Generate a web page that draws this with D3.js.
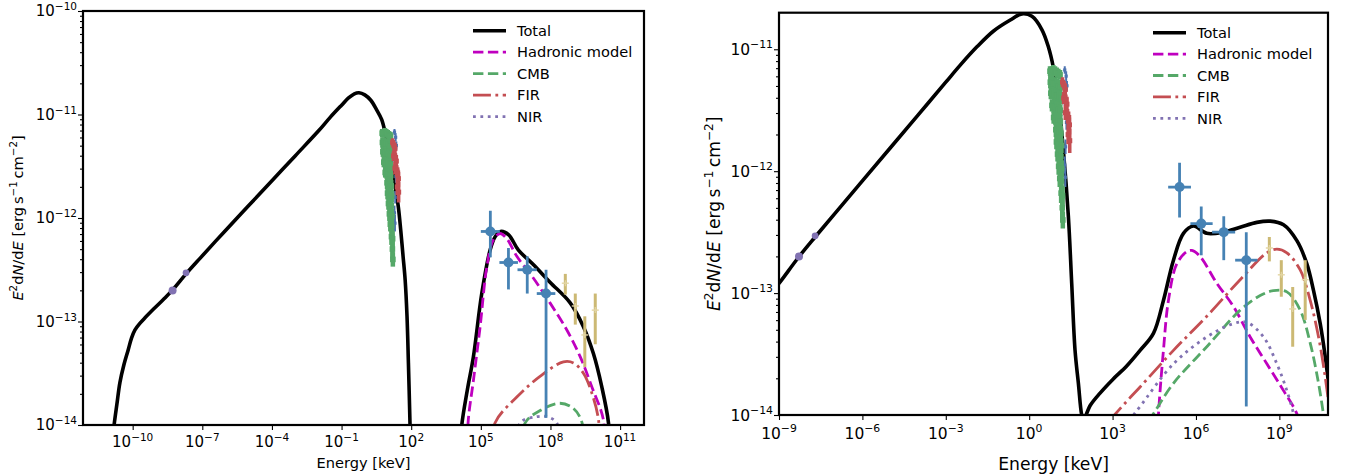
<!DOCTYPE html>
<html><head><meta charset="utf-8">
<script src="https://cdn.jsdelivr.net/npm/d3@7"></script>
<style>body{margin:0;background:#fff} text{font-family:"DejaVu Sans",sans-serif;fill:#000}</style>
</head><body><svg id="c" width="1354" height="475"></svg>
<script>
// ---- data: pairs are [log10 E (keV), log10 E^2dN/dE (erg s^-1 cm^-2)] ----
const leftTotalSync = [[-10.95,-14.3],[-10.80,-14.0],[-10.68,-13.80],[-10.55,-13.59],[-10.38,-13.42],[-10.20,-13.28],[-10.05,-13.16],[-9.90,-13.08],[-9.70,-13.02],[-9.45,-12.96],[-9.1,-12.88],[-8.6,-12.77],[-8.26,-12.69],[-7.70,-12.54],[-7.10,-12.39],[-6,-12.12],[-5,-11.88],[-4,-11.64],[-3,-11.40],[-2,-11.16],[-1.5,-11.03],[-1.0,-10.91],[-0.7,-10.84],[-0.45,-10.80],[-0.25,-10.79],[0.0,-10.81],[0.25,-10.86],[0.5,-10.95],[0.73,-11.05],[0.9,-11.2],[1.1,-11.42],[1.3,-11.68],[1.45,-11.90],[1.55,-12.12],[1.65,-12.37],[1.74,-12.60],[1.82,-12.95],[1.88,-13.4],[1.95,-14.0],[1.98,-14.3]];
const leftTotalHigh = [[4.10,-14.3],[4.18,-14.0],[4.42,-13.66],[4.68,-13.34],[5.04,-12.73],[5.40,-12.31],[5.62,-12.18],[5.85,-12.13],[6.19,-12.16],[6.62,-12.31],[7.26,-12.45],[7.98,-12.62],[8.85,-12.82],[9.42,-13.05],[9.85,-13.31],[10.21,-13.63],[10.50,-13.98],[10.55,-14.3]];
const leftHadronic = [[4.40,-14.3],[4.46,-13.95],[4.68,-13.57],[4.97,-13.05],[5.26,-12.47],[5.54,-12.21],[5.83,-12.15],[6.12,-12.20],[6.55,-12.37],[7.26,-12.58],[7.98,-12.82],[8.70,-13.08],[9.28,-13.34],[9.78,-13.63],[10.28,-13.95],[10.32,-14.3]];
const leftFIR = [[5.45,-14.3],[5.61,-13.98],[6.55,-13.73],[7.55,-13.53],[8.56,-13.39],[8.99,-13.40],[9.42,-13.50],[9.78,-13.69],[10.07,-13.95],[10.12,-14.3]];
const leftCMB = [[6.70,-14.3],[6.91,-13.98],[7.55,-13.86],[8.41,-13.79],[8.99,-13.84],[9.35,-13.97],[9.45,-14.3]];
const leftNIR = [[6.55,-14.3],[6.69,-13.98],[7.41,-13.92],[7.84,-13.92],[8.27,-13.98],[8.45,-14.3]];

const rightTotal = [[-9.3,-13.0],[-9,-12.92],[-8.31,-12.71],[-7.70,-12.54],[-7,-12.35],[-6,-12.08],[-5,-11.81],[-4,-11.54],[-3,-11.27],[-2.48,-11.13],[-1.88,-10.98],[-1.28,-10.85],[-0.68,-10.76],[-0.26,-10.71],[0.10,-10.73],[0.46,-10.84],[0.69,-10.98],[0.87,-11.15],[1.05,-11.42],[1.23,-11.83],[1.41,-12.37],[1.53,-12.92],[1.65,-13.47],[1.77,-13.74],[1.89,-14.0],[1.95,-14.04],[2.2,-13.92],[2.55,-13.82],[3.0,-13.71],[3.5,-13.60],[3.99,-13.47],[4.47,-13.33],[4.83,-13.06],[5.19,-12.73],[5.55,-12.51],[5.91,-12.45],[6.39,-12.51],[6.99,-12.50],[7.59,-12.46],[8.19,-12.42],[8.67,-12.41],[9.15,-12.44],[9.63,-12.57],[9.99,-12.76],[10.23,-12.98],[10.47,-13.25],[10.65,-13.52],[10.8,-13.8]];
const rightHadronic = [[4.60,-14.3],[4.65,-14.0],[4.83,-13.47],[5.01,-13.06],[5.31,-12.76],[5.67,-12.66],[5.85,-12.65],[6.15,-12.70],[6.75,-12.92],[7.35,-13.11],[7.95,-13.36],[8.55,-13.58],[9.15,-13.80],[9.63,-13.99],[9.75,-14.1]];
const rightFIR = [[2.9,-14.05],[3.07,-14.0],[3.5,-13.89],[3.99,-13.77],[5.19,-13.47],[6.39,-13.19],[7.59,-12.89],[8.55,-12.67],[8.91,-12.64],[9.27,-12.67],[9.75,-12.81],[10.11,-13.06],[10.41,-13.36],[10.65,-13.69],[10.8,-13.95]];
const rightCMB = [[4.3,-14.05],[4.47,-13.99],[5.19,-13.74],[6.39,-13.44],[7.59,-13.14],[8.31,-13.02],[8.79,-12.98],[9.27,-12.99],[9.75,-13.14],[10.11,-13.41],[10.41,-13.74],[10.59,-14.0],[10.65,-14.1]];
const rightNIR = [[3.6,-14.05],[3.75,-14.0],[3.99,-13.93],[5.19,-13.58],[6.39,-13.36],[7.35,-13.25],[7.83,-13.24],[8.43,-13.36],[8.91,-13.58],[9.27,-13.80],[9.51,-13.99],[9.6,-14.1]];

// observations (log10 values)
const radioE = [-8.28, -7.70];
const radioF = [-12.70, -12.53];
const fermiE = [5.41, 6.19, 7.00, 7.81];
const fermiElo = [5.00, 5.80, 6.58, 7.41];
const fermiEhi = [5.82, 6.60, 7.41, 8.21];
const fermiF = [-12.13, -12.43, -12.50, -12.73];
const fermiFlo = [-12.38, -12.69, -12.73, -13.93];
const fermiFhi = [-11.93, -12.29, -12.37, -12.50];
const hessE = [8.64, 9.07, 9.48, 9.93];
const hessF = [-12.63, -12.85, -13.13, -12.89];
const hessFlo = [-12.74, -13.03, -13.44, -13.22];
const hessFhi = [-12.54, -12.73, -12.95, -12.73];
const xrayGreenE = [0.75,0.81,0.87,0.93,0.99,1.05,1.11,
                    0.76,0.82,0.88,0.94,1.00,1.06,1.12,
                    0.78,0.84,0.90,0.96,1.02,1.08,1.14,
                    0.82,0.88,0.94,1.00,1.06,1.12,
                    0.88,0.94,1.00,1.06,1.12,
                    0.96,1.02,1.08,1.14,
                    0.98,1.04,1.10,1.16,
                    1.02,1.08,1.14,
                    1.06,1.12,1.17,
                    1.10,1.16,
                    1.15,1.20,
                    1.19,1.21];
const xrayGreenF = [-11.18,-11.18,-11.17,-11.18,-11.19,-11.20,-11.21,
                    -11.27,-11.27,-11.28,-11.28,-11.29,-11.30,-11.31,
                    -11.36,-11.36,-11.37,-11.38,-11.38,-11.39,-11.40,
                    -11.46,-11.47,-11.47,-11.48,-11.49,-11.50,
                    -11.56,-11.57,-11.58,-11.58,-11.59,
                    -11.66,-11.67,-11.68,-11.69,
                    -11.76,-11.77,-11.78,-11.79,
                    -11.86,-11.87,-11.88,
                    -11.96,-11.97,-11.98,
                    -12.06,-12.08,
                    -12.18,-12.20,
                    -12.30,-12.40];
const xrayGreenErr = [0.04,0.04,0.04,0.04,0.04,0.04,0.04,
                      0.05,0.05,0.05,0.05,0.05,0.05,0.05,
                      0.05,0.05,0.05,0.05,0.05,0.05,0.05,
                      0.05,0.05,0.05,0.05,0.05,0.05,
                      0.05,0.05,0.05,0.05,0.05,
                      0.06,0.06,0.06,0.06,
                      0.06,0.06,0.06,0.06,
                      0.06,0.06,0.06,
                      0.07,0.07,0.07,
                      0.07,0.07,
                      0.08,0.08,
                      0.09,0.07];
const xrayRedE = [1.20,1.26,1.30,1.24,1.32,1.36,1.30,1.38,1.42,1.45,1.40,1.46];
const xrayRedF = [-11.27,-11.30,-11.33,-11.40,-11.42,-11.45,-11.52,-11.55,-11.58,-11.62,-11.70,-11.75];
const xrayRedErr = [0.04,0.04,0.05,0.05,0.05,0.06,0.06,0.06,0.07,0.08,0.08,0.10];
const xrayBlueE = [1.28,1.33,1.36,1.30,1.34,1.31,1.28,1.30];
const xrayBlueF = [-11.17,-11.22,-11.30,-11.45,-11.60,-11.80,-11.95,-12.05];
const xrayBlueErr = [0.03,0.04,0.04,0.05,0.06,0.06,0.07,0.08];

const legendLabels = ["Total", "Hadronic model", "CMB", "FIR", "NIR"];
const leftXTicks = [-10,-7,-4,-1,2,5,8,11];
const leftYTicks = [-14,-13,-12,-11,-10];
const rightXTicks = [-9,-6,-3,0,3,6,9];
const rightYTicks = [-14,-13,-12,-11];

// ---- styles ----
const styles = [
  {color:"#000000", w:3.6, dash:null},
  {color:"#bf00bf", w:2.8, dash:"10.4,4.5"},
  {color:"#55a868", w:2.8, dash:"10.4,4.5"},
  {color:"#c44e52", w:2.8, dash:"17.9,4.5,2.8,4.5"},
  {color:"#8172b2", w:2.8, dash:"2.8,4.6"}
];

const svg = d3.select("#c");
const P = v => Math.pow(10, v);

function supLabel(sel, exp, size) {
  sel.append("tspan").text("10");
  sel.append("tspan").attr("font-size", size*0.7).attr("dy", -size*0.42)
    .text(exp < 0 ? "\u2212" + Math.abs(exp) : String(exp));
}

function drawPanel(cfg) {
  const g = svg.append("g");
  const x = d3.scaleLog().domain(cfg.xDomain.map(P)).range([cfg.x0, cfg.x1]);
  const y = d3.scaleLog().domain(cfg.yDomain.map(P)).range([cfg.y1, cfg.y0]);
  const id = "clip" + cfg.name;
  svg.append("defs").append("clipPath").attr("id", id).append("rect")
    .attr("x", cfg.x0).attr("y", cfg.y0).attr("width", cfg.x1 - cfg.x0).attr("height", cfg.y1 - cfg.y0);
  const plot = g.append("g").attr("clip-path", `url(#${id})`);
  const line = d3.line().x(d => x(P(d[0]))).y(d => y(P(d[1]))).curve(d3.curveCatmullRom.alpha(0.5));

  cfg.curves.forEach(c => {
    c.data.forEach(arr => {
      plot.append("path").attr("d", line(arr)).attr("fill", "none")
        .attr("stroke", styles[c.s].color).attr("stroke-width", styles[c.s].w)
        .attr("stroke-dasharray", styles[c.s].dash).attr("stroke-linejoin", "round");
    });
  });

  function xray(E, F, Err, color, w, r) {
    E.forEach((e, i) => {
      plot.append("line").attr("x1", x(P(e))).attr("x2", x(P(e)))
        .attr("y1", y(P(F[i] - Err[i]))).attr("y2", y(P(F[i] + Err[i])))
        .attr("stroke", color).attr("stroke-width", w);
      plot.append("rect").attr("x", x(P(e)) - r).attr("y", y(P(F[i])) - r)
        .attr("width", 2*r).attr("height", 2*r).attr("fill", color);
    });
  }
  xray(xrayBlueE, xrayBlueF, xrayBlueErr, "#4c72b0", 2, 1.6);
  xray(xrayGreenE, xrayGreenF, xrayGreenErr, "#55a868", 4.5, 2.8);
  xray(xrayRedE, xrayRedF, xrayRedErr, "#c44e52", 3.5, 2.5);

  radioE.forEach((e, i) => {
    plot.append("circle").attr("cx", x(P(e))).attr("cy", y(P(radioF[i]))).attr("r", i === 0 ? 4 : 3.4).attr("fill", "#8172b2");
  });
  fermiE.forEach((e, i) => {
    const cx = x(P(e)), cy = y(P(fermiF[i]));
    plot.append("line").attr("x1", x(P(fermiElo[i]))).attr("x2", x(P(fermiEhi[i]))).attr("y1", cy).attr("y2", cy)
      .attr("stroke", "#4682b4").attr("stroke-width", 2.8);
    plot.append("line").attr("x1", cx).attr("x2", cx).attr("y1", y(P(fermiFlo[i]))).attr("y2", y(P(fermiFhi[i])))
      .attr("stroke", "#4682b4").attr("stroke-width", 2.8);
    plot.append("circle").attr("cx", cx).attr("cy", cy).attr("r", 5).attr("fill", "#4682b4");
  });
  hessE.forEach((e, i) => {
    const cx = x(P(e)), cy = y(P(hessF[i]));
    plot.append("line").attr("x1", cx).attr("x2", cx).attr("y1", y(P(hessFlo[i]))).attr("y2", y(P(hessFhi[i])))
      .attr("stroke", "#ccb974").attr("stroke-width", 3);
    plot.append("line").attr("x1", cx - 3.5).attr("x2", cx + 3.5).attr("y1", cy).attr("y2", cy)
      .attr("stroke", "#e3d6a4").attr("stroke-width", 1.4);
    plot.append("line").attr("x1", cx).attr("x2", cx).attr("y1", cy - 3).attr("y2", cy + 3)
      .attr("stroke", "#e3d6a4").attr("stroke-width", 1.2);
  });

  const xa = g.append("g").attr("transform", `translate(0,${cfg.y1})`)
    .call(d3.axisBottom(x).tickValues(cfg.xTicks.map(P)).tickSize(5).tickFormat(""));
  const ya = g.append("g").attr("transform", `translate(${cfg.x0},0)`)
    .call(d3.axisLeft(y).tickValues(cfg.yTicks.map(P)).tickSize(5).tickFormat(""));
  const minors = [];
  for (let d = cfg.yDomain[0] - 1; d < cfg.yDomain[1]; d++) for (let m = 2; m <= 9; m++) {
    const v = m * P(d);
    if (v > P(cfg.yDomain[0]) && v < P(cfg.yDomain[1])) minors.push(v);
  }
  const ym = g.append("g").attr("transform", `translate(${cfg.x0},0)`)
    .call(d3.axisLeft(y).tickValues(minors).tickSize(3).tickFormat(""));
  [xa, ya, ym].forEach(a => { a.select(".domain").remove(); a.selectAll("line").attr("stroke", "#000").attr("stroke-width", 1.1); });

  cfg.xTicks.forEach(t => {
    const tx = g.append("text").attr("x", x(P(t))).attr("y", cfg.xLabY).attr("text-anchor", "middle").attr("font-size", cfg.tickFont);
    supLabel(tx, t, cfg.tickFont);
  });
  cfg.yTicks.forEach(t => {
    const tx = g.append("text").attr("x", cfg.yLabX).attr("y", y(P(t)) + cfg.tickFont*0.36).attr("text-anchor", "end").attr("font-size", cfg.tickFont);
    supLabel(tx, t, cfg.tickFont);
  });

  g.append("rect").attr("x", cfg.x0).attr("y", cfg.y0).attr("width", cfg.x1 - cfg.x0).attr("height", cfg.y1 - cfg.y0)
    .attr("fill", "none").attr("stroke", "#000").attr("stroke-width", 2.2);

  g.append("text").attr("x", (cfg.x0 + cfg.x1)/2).attr("y", cfg.titleY).attr("text-anchor", "middle")
    .attr("font-size", cfg.labelFont).text("Energy [keV]");
  const fs = cfg.labelFont;
  const yl = g.append("text").attr("transform", `translate(${cfg.ylabX},${(cfg.y0 + cfg.y1)/2}) rotate(-90)`)
    .attr("text-anchor", "middle").attr("font-size", fs);
  yl.append("tspan").attr("font-style", "italic").text("E");
  yl.append("tspan").attr("font-size", fs*0.7).attr("dy", -fs*0.42).text("2");
  yl.append("tspan").attr("dy", fs*0.42).text("d");
  yl.append("tspan").attr("font-style", "italic").text("N");
  yl.append("tspan").text("/d");
  yl.append("tspan").attr("font-style", "italic").text("E");
  yl.append("tspan").text(" [erg\u2009s");
  yl.append("tspan").attr("font-size", fs*0.7).attr("dy", -fs*0.42).text("\u22121");
  yl.append("tspan").attr("dy", fs*0.42).text("\u2009cm");
  yl.append("tspan").attr("font-size", fs*0.7).attr("dy", -fs*0.42).text("\u22122");
  yl.append("tspan").attr("dy", fs*0.42).text("]");

  legendLabels.forEach((lab, i) => {
    const ly = cfg.legY + i * cfg.legDy;
    const st = styles[i];
    g.append("line").attr("x1", cfg.legX).attr("x2", cfg.legX + 33).attr("y1", ly).attr("y2", ly)
      .attr("stroke", st.color).attr("stroke-width", st.w).attr("stroke-dasharray", st.dash);
    g.append("text").attr("x", cfg.legX + 44).attr("y", ly + 5.2).attr("font-size", 14.6).text(lab);
  });
}

drawPanel({
  name: "L", x0: 83, x1: 644, y0: 11, y1: 425,
  xDomain: [-12.14, 12.03], yDomain: [-14, -10],
  xTicks: leftXTicks, yTicks: leftYTicks,
  tickFont: 15, labelFont: 14.6, xLabY: 447, yLabX: 77, titleY: 468, ylabX: 23,
  legX: 473, legY: 30.7, legDy: 21.5,
  curves: [
    {s:0, data:[leftTotalSync, leftTotalHigh]},
    {s:1, data:[leftHadronic]},
    {s:2, data:[leftCMB]},
    {s:3, data:[leftFIR]},
    {s:4, data:[leftNIR]}
  ]
});
drawPanel({
  name: "R", x0: 779, x1: 1328, y0: 12.7, y1: 415,
  xDomain: [-9, 10.75], yDomain: [-14, -10.70],
  xTicks: rightXTicks, yTicks: rightYTicks,
  tickFont: 15.5, labelFont: 17.2, xLabY: 439, yLabX: 773, titleY: 470, ylabX: 720,
  legX: 1153, legY: 32.7, legDy: 21.4,
  curves: [
    {s:0, data:[rightTotal]},
    {s:1, data:[rightHadronic]},
    {s:2, data:[rightCMB]},
    {s:3, data:[rightFIR]},
    {s:4, data:[rightNIR]}
  ]
});
</script></body></html>
